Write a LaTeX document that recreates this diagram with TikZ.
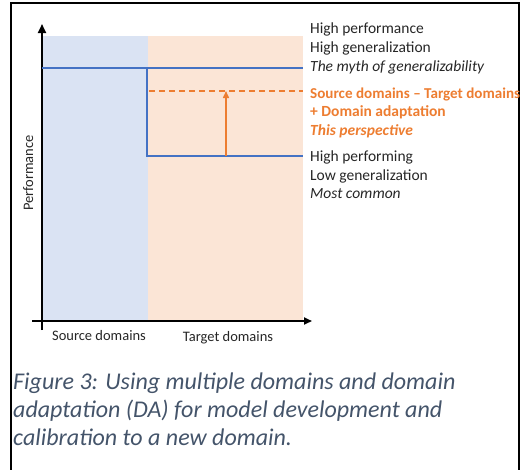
\documentclass[tikz,border=0pt]{standalone}
\usepackage{fontspec}
\setmainfont{Carlito}
\usetikzlibrary{arrows.meta}
\definecolor{lblue}{HTML}{4472C4}
\definecolor{lorange}{HTML}{ED7D31}
\definecolor{shadeblue}{HTML}{DAE3F3}
\definecolor{shadepeach}{HTML}{FBE5D6}
\definecolor{capcol}{HTML}{44546A}
\tikzset{
  lbl/.style={anchor=base west, inner sep=0pt, font=\fontsize{15.5}{18}\selectfont, text=black!85},
  olbl/.style={lbl, text=lorange, font=\fontsize{15.5}{18}\selectfont\bfseries},
  axlbl/.style={inner sep=0pt, font=\fontsize{14.5}{16}\selectfont, text=black!85},
  caplbl/.style={anchor=base west, inner sep=0pt, font=\fontsize{24}{28}\selectfont\itshape, text=capcol},
  axis/.style={line width=2.2pt, -{Triangle[length=9pt,width=8pt]}},
  bline/.style={line width=1.6pt, lblue},
  oline/.style={line width=1.6pt, lorange},
}
\begin{document}
\begin{tikzpicture}[x=1pt,y=-1pt]
\useasboundingbox (0,0) rectangle (524,469);
% frame
\draw[line width=1.4pt] (11,475) -- (11,3) -- (519,3) -- (519,475);
% shading
\fill[shadeblue] (42,36) rectangle (148,321);
\fill[shadepeach] (148,36) rectangle (303,321);
% coordinates
\coordinate (yb) at (42,330);
\coordinate (yt) at (42,24);
\coordinate (xl) at (32,321);
\coordinate (xr) at (312,321);
\coordinate (b1) at (42,68);
\coordinate (b2) at (147,68);
\coordinate (b3) at (303,68);
\coordinate (b4) at (147,156);
\coordinate (b5) at (303,156);
\coordinate (o1) at (149,91);
\coordinate (o2) at (303,91);
\coordinate (a1) at (226,156);
\coordinate (a2) at (226,91);
% axes
\draw[axis] (yb) -- (yt);
\draw[axis, line width=1.8pt, -{Triangle[length=8pt,width=7pt]}] (xl) -- (xr);
% blue lines
\draw[bline] (b1) -- (b3);
\draw[bline] (b2) -- (b4) -- (b5);
% orange
\draw[oline, dash pattern=on 6pt off 4pt] (o1) -- (o2);
\draw[oline, line width=1.5pt, -{Triangle[length=7pt,width=6pt]}] (a1) -- (a2);
% right labels
\node[lbl] (t1) at (310,33) {High performance};
\node[lbl] (t2) at (310,52) {High generalization};
\node[lbl, font=\fontsize{15.5}{18}\selectfont\itshape] (t3) at (310,71) {The myth of generalizability};
\node[olbl, font=\fontsize{15.1}{18}\selectfont\bfseries] (t4) at (310,98) {Source domains -- Target domains};
\node[olbl] (t5) at (310,116.5) {+ Domain adaptation};
\node[olbl, font=\fontsize{15.5}{18}\selectfont\bfseries\itshape] (t6) at (310,135) {This perspective};
\node[lbl] (t7) at (310,161.5) {High performing};
\node[lbl] (t8) at (310,180) {Low generalization};
\node[lbl, font=\fontsize{15.5}{18}\selectfont\itshape] (t9) at (310,198.5) {Most common};
% axis labels
\node[axlbl, anchor=base] (src) at (99,340) {Source domains};
\node[axlbl, anchor=base] (tgt) at (228,341) {Target domains};
\node[axlbl, anchor=base, rotate=90] (perf) at (33,173) {Performance};
% caption
\node[caplbl] (c1) at (13,389) {Figure 3: Using multiple domains and domain};
\node[caplbl] (c2) at (13,417) {adaptation (DA) for model development and};
\node[caplbl] (c3) at (13,445) {calibration to a new domain.};
\end{tikzpicture}
\end{document}
